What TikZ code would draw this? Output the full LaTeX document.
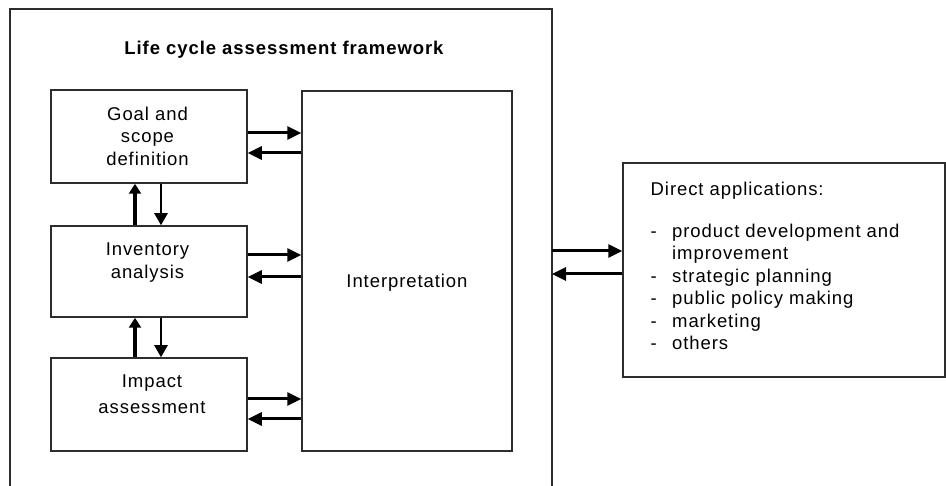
\documentclass[tikz,border=0pt]{standalone}
\usepackage{fontspec}
\setmainfont{Liberation Sans}[LetterSpace=5]
\usepackage{tikz}
\usetikzlibrary{arrows.meta}
\definecolor{boxgray}{RGB}{45,45,45}
\tikzstyle{stage}=[draw=boxgray, line width=1.5pt, inner sep=0pt, minimum width=196pt]
\tikzstyle{caption}=[inner sep=0pt, align=center, font=\fontsize{18.5}{22.5}\selectfont]
\tikzstyle{flow}=[line width=3pt, -{Triangle[length=14pt,width=13pt]}]
\tikzstyle{upflow}=[line width=4pt, -{Triangle[length=10pt,width=12pt]}]
\tikzstyle{downflow}=[line width=2.5pt, -{Triangle[length=12pt,width=13pt]}]
\newcommand{\appdash}{\makebox[21.5pt][l]{-}}

\begin{document}
\begin{tikzpicture}[x=1pt,y=-1pt]
      \useasboundingbox[fill=white] (0,0) rectangle (946,486);
      % outer frame (bottom edge runs off the picture)
      \draw [boxgray, line width=1.5pt] (10,486) -- (10,9) -- (552,9) -- (552,486);
      \node [font=\bfseries\fontsize{18.5}{20}\selectfont, anchor=base] (title) at (284,55) {Life cycle assessment framework};

      \node [stage, minimum height=93pt] (goal) at (149,136.5) {};
      \node [stage, minimum height=91pt] (inv) at (149,271.5) {};
      \node [stage, minimum height=93pt] (imp) at (149,404.5) {};
      \node [draw=boxgray, line width=1.5pt, minimum width=210pt, minimum height=360pt] (interp) at (407,271) {};
      \node [draw=boxgray, line width=1.5pt, minimum width=322pt, minimum height=214pt] (apps) at (784,270) {};

      \node [caption, anchor=north] (goaltext) at (147.5,106.5) {Goal and\\scope\\definition};
      \node [caption, anchor=north, font=\fontsize{18.5}{23}\selectfont] (invtext) at (147.5,242.8) {Inventory\\analysis};
      \node [caption, anchor=north, font=\fontsize{18.5}{26}\selectfont] (imptext) at (152,374.8) {Impact\\assessment};
      \node [caption, anchor=base] (interptext) at (407,288) {Interpretation};
      \node [caption, anchor=north west, align=left, font=\fontsize{18.5}{22.4}\selectfont] (applist) at (650.5,181.8)
        {Direct applications:\\[19.6pt]
        \appdash product development and\\
        \hspace*{21.5pt}improvement\\
        \appdash strategic planning\\
        \appdash public policy making\\
        \appdash marketing\\
        \appdash others};

      % stages <-> interpretation
      \draw [flow] (goal.east |- 0,133) -- (interp.west |- 0,133);
      \draw [flow] (interp.west |- 0,153) -- (goal.east |- 0,153);
      \draw [flow] (inv.east |- 0,255) -- (interp.west |- 0,255);
      \draw [flow] (interp.west |- 0,277) -- (inv.east |- 0,277);
      \draw [flow] (imp.east |- 0,399) -- (interp.west |- 0,399);
      \draw [flow] (interp.west |- 0,419) -- (imp.east |- 0,419);

      % stage <-> stage
      \draw [upflow] (inv.north -| 135,0) -- (goal.south -| 135,0);
      \draw [downflow] (goal.south -| 161,0) -- (inv.north -| 161,0);
      \draw [upflow] (imp.north -| 135,0) -- (inv.south -| 135,0);
      \draw [downflow] (inv.south -| 161,0) -- (imp.north -| 161,0);

      % framework <-> applications
      \coordinate (fr1) at (552,251);
      \coordinate (fr2) at (552,274);
      \draw [flow] (fr1) -- (apps.west |- fr1);
      \draw [flow] (apps.west |- fr2) -- (fr2);
\end{tikzpicture}
\end{document}
